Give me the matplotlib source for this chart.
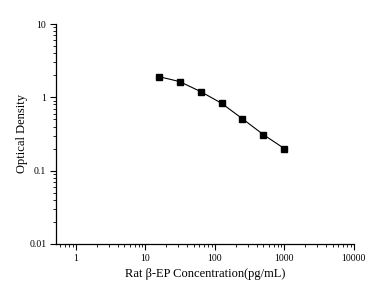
import matplotlib
matplotlib.use("Agg")
import matplotlib.pyplot as plt
from matplotlib.ticker import LogLocator, FuncFormatter

# standard curve data
conc = [15.625, 31.25, 62.5, 125, 250, 500, 1000]
od = [1.92, 1.64, 1.20, 0.83, 0.51, 0.31, 0.20]

x_ticks = [1, 10, 100, 1000, 10000]
y_ticks = [0.01, 0.1, 1, 10]

plt.rcParams['font.family'] = ['Liberation Serif', 'DejaVu Serif']

fig = plt.figure(figsize=(3.85, 2.9), dpi=100)
ax = fig.add_axes([0.1455, 0.159, 0.7735, 0.758])

ax.plot(conc, od, color='black', lw=0.8, marker='s', ms=3.8,
        markerfacecolor='black', markeredgecolor='black')

ax.set_xscale('log')
ax.set_yscale('log')
ax.set_xlim(0.52, 10000)
ax.set_ylim(0.01, 10)
ax.set_xticks(x_ticks)
ax.set_yticks(y_ticks)
ax.xaxis.set_major_formatter(FuncFormatter(lambda v, p: '%g' % v))
ax.yaxis.set_major_formatter(FuncFormatter(lambda v, p: '%g' % v))
ax.xaxis.set_minor_locator(LogLocator(base=10, subs=range(2, 10)))
ax.yaxis.set_minor_locator(LogLocator(base=10, subs=range(2, 10)))

for s in ['top', 'right']:
    ax.spines[s].set_visible(False)
for s in ['left', 'bottom']:
    ax.spines[s].set_linewidth(0.9)

ax.tick_params(which='major', direction='out', length=4, width=0.8, labelsize=7, pad=3)
ax.tick_params(which='minor', direction='out', length=2, width=0.6)

ax.set_xlabel('Rat β-EP Concentration(pg/mL)', fontsize=9, labelpad=4)
ax.set_ylabel('Optical Density', fontsize=9, labelpad=1)

fig.savefig('out.png', dpi=100)
